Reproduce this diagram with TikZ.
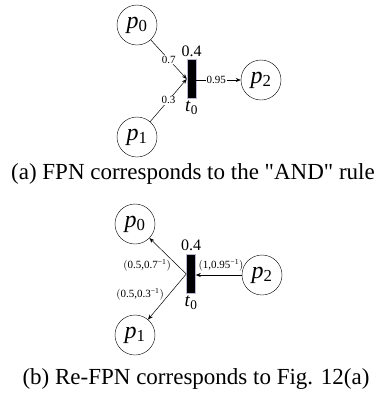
\documentclass[tikz,border=0pt]{standalone}
\usepackage{fontspec}
\setmainfont{Liberation Serif}[Ligatures=TeXOff,ItalicFont=Liberation Serif Italic]
\usetikzlibrary{arrows.meta,positioning}

\newcommand{\pl}[2]{\textit{#1}\textsubscript{#2}}
\newcommand{\wpair}[2]{$\bigl($#1,#2\textsuperscript{−1}$\bigr)$}

\begin{document}
\begin{tikzpicture}[x=1pt,y=-1pt,
    fplace/.style={circle,draw,minimum size=40pt,inner sep=0pt,
      font=\fontsize{24}{24}\selectfont},
    ftrans/.style={fill=black,draw=blue!25!gray!45,line width=0.5pt,
      minimum width=9pt,minimum height=39pt,inner sep=0pt},
    flabel/.style={font=\fontsize{16}{16}\selectfont,inner sep=1pt},
    wt/.style={font=\fontsize{11}{11}\selectfont,fill=white,inner sep=1pt},
    wp/.style={font=\fontsize{11}{11}\selectfont,inner sep=1pt},
    arc/.style={-{Stealth[length=5pt,width=4pt]},line width=0.5pt},
    captext/.style={font=\fontsize{23}{26}\selectfont}]
  \useasboundingbox (0,0) rectangle (389,397);
  % (a) FPN
  \node[ftrans] (ta) at (191.5,79) {};
  \node[flabel,above=1pt of ta] {0.4};
  \node[flabel,font=\fontsize{19}{19}\selectfont,below=1pt of ta] {\pl{t}{0}};
  \foreach \n/\x/\y/\i in {pa0/137/25/0, pa1/137/137/1, pa2/261/80/2} {
    \node[fplace] (\n) at (\x,\y) {\pl{p}{\i}};
  }
  \draw[arc] (pa0) -- node[wt] {0.7} (ta.west);
  \draw[arc] (pa1) -- node[wt] {0.3} (ta.west);
  \draw[arc] (ta.east |- pa2) -- node[wt,pos=0.45] {0.95} (pa2);
  \node[captext] (capa) at (193,174)
    {(a) FPN corresponds to the "AND" rule};
  % (b) Re-FPN
  \node[ftrans] (tb) at (191,274) {};
  \node[flabel,above=2pt of tb] {0.4};
  \node[flabel,font=\fontsize{19}{19}\selectfont,below=1pt of tb] {\pl{t}{0}};
  \foreach \n/\x/\y/\i in {pb0/135/224/0, pb1/135/335/1, pb2/262/275/2} {
    \node[fplace] (\n) at (\x,\y) {\pl{p}{\i}};
  }
  \draw[arc] (tb.west) -- node[wp,pos=0.25,left=5pt] {\wpair{0.5}{0.7}} (pb0);
  \draw[arc] (tb.west) -- node[wp,pos=0.45,left=4pt] {\wpair{0.5}{0.3}} (pb1);
  \draw[arc] (pb2) -- node[wp,pos=0.45,above=3pt] {\wpair{1}{0.95}} (tb.east |- pb2);
  \node[captext] (capb) at (196,379) {(b) Re-FPN corresponds to Fig. 12(a)};
\end{tikzpicture}
\end{document}
